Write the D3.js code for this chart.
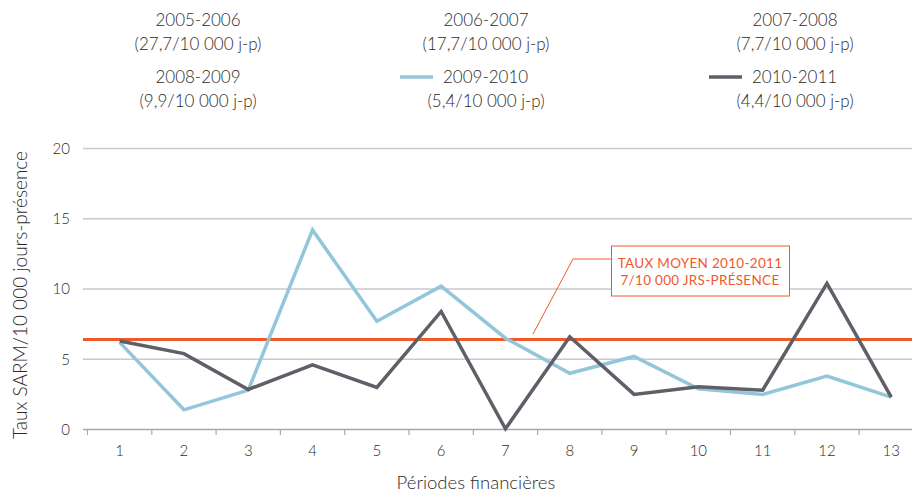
<!DOCTYPE html>
<html><head><meta charset="utf-8">
<script src="https://cdn.jsdelivr.net/npm/d3@7"></script>
<style>
body{margin:0;background:#fff;}
text{font-family:Lato,"Open Sans",sans-serif;font-weight:300;fill:#2b2b2b;}
</style></head>
<body><svg id="c" width="912" height="493"></svg>
<script>
const periods = ["1","2","3","4","5","6","7","8","9","10","11","12","13"];
const s2009 = [6.2,1.4,2.8,14.2,7.7,10.2,6.5,4.0,5.2,2.9,2.5,3.8,2.3];
const s2010 = [6.3,5.4,2.85,4.6,3.0,8.4,0.05,6.6,2.5,3.05,2.8,10.4,2.3];
const meanRate = 6.4;
const yTicks = [0,5,10,15,20];
const legendYears = ["2005-2006","2006-2007","2007-2008","2008-2009","2009-2010","2010-2011"];
const legendRates = ["(27,7/10 000 j-p)","(17,7/10 000 j-p)","(7,7/10 000 j-p)","(9,9/10 000 j-p)","(5,4/10 000 j-p)","(4,4/10 000 j-p)"];
const annotation = ["TAUX MOYEN 2010-2011","7/10 000 JRS-PRÉSENCE"];

const C_BLUE="#93c6db", C_DARK="#5f6067", C_OR="#f05a28", C_GRID="#c9c9ce";
const svg=d3.select("#c");
const x=d3.scaleBand().domain(periods).range([87.5,923.4]);
const y=d3.scaleLinear().domain([0,20]).range([429.5,148.5]);

// grid
svg.append("g").selectAll("line").data(yTicks.filter(d=>d>0)).join("line")
 .attr("x1",83).attr("x2",912).attr("y1",d=>y(d)).attr("y2",d=>y(d))
 .attr("stroke",C_GRID).attr("stroke-width",1.5);
// y labels
svg.append("g").selectAll("text").data(yTicks).join("text")
 .attr("x",70).attr("y",d=>y(d)).attr("dy","0.35em").attr("text-anchor","end")
 .attr("font-size",15).text(d=>d);
// x axis
const xa=svg.append("g").attr("transform","translate(0,429.5)")
 .call(d3.axisBottom(x).tickSize(0).tickPadding(16));
xa.select(".domain").remove();
svg.append("line").attr("x1",83).attr("x2",912).attr("y1",429.5).attr("y2",429.5).attr("stroke","#a9a9ad").attr("stroke-width",1.5);
xa.selectAll("text").attr("font-size",15).attr("font-family","Lato,sans-serif").attr("font-weight",300).attr("fill","#2b2b2b");
svg.append("g").selectAll("line").data(periods).join("line")
 .attr("x1",d=>x(d)).attr("x2",d=>x(d)).attr("y1",429.5).attr("y2",435)
 .attr("stroke","#a9a9ad").attr("stroke-width",1.2);

// titles
svg.append("text").attr("x",476).attr("y",489).attr("text-anchor","middle").attr("font-size",18.5).text("Périodes financières");
svg.append("text").attr("transform","translate(27,295) rotate(-90)").attr("text-anchor","middle").attr("font-size",19).style("fill","#2b2b2b").text("Taux SARM/10 000 jours-présence");

// mean line
svg.append("line").attr("x1",83).attr("x2",912).attr("y1",y(meanRate)).attr("y2",y(meanRate)).attr("stroke",C_OR).attr("stroke-width",3);

// series
const line=d3.line().x((d,i)=>x(periods[i])+x.bandwidth()/2).y(d=>y(d));
svg.append("path").datum(s2009).attr("d",line).attr("fill","none").attr("stroke",C_BLUE).attr("stroke-width",3.5).attr("stroke-linejoin","miter");
svg.append("path").datum(s2010).attr("d",line).attr("fill","none").attr("stroke",C_DARK).attr("stroke-width",3.5).attr("stroke-linejoin","miter");

// annotation
svg.append("polyline").attr("points","533,334 573,259 612,259").attr("fill","none").attr("stroke",C_OR).attr("stroke-width",1);
svg.append("rect").attr("x",611.5).attr("y",246).attr("width",178).attr("height",50).attr("fill","#fff").attr("stroke",C_OR).attr("stroke-width",1);
svg.selectAll(".ann").data(annotation).join("text").attr("class","ann")
 .attr("x",700).attr("y",(d,i)=>268+i*17).attr("text-anchor","middle").attr("font-size",13.5)
 .style("fill",C_OR).style("font-weight",400).style("letter-spacing","0.3px").text(d=>d);

// legend
const lx=[198,486,795];
const ly=[20,77];
const swatch={4:C_BLUE,5:C_DARK};
legendYears.forEach((yr,i)=>{
  const col=i%3,row=Math.floor(i/3);
  const cx=lx[col], cy=ly[row];
  if(swatch[i]){
    const tx=cx-43;
    svg.append("line").attr("x1",tx-43).attr("x2",tx-10).attr("y1",cy).attr("y2",cy).attr("stroke",swatch[i]).attr("stroke-width",3.5);
    svg.append("text").attr("x",tx).attr("y",cy).attr("dy","0.35em").attr("font-size",17).text(yr);
  } else {
    svg.append("text").attr("x",cx).attr("y",cy).attr("dy","0.35em").attr("text-anchor","middle").attr("font-size",17).text(yr);
  }
  svg.append("text").attr("x",cx).attr("y",cy+24).attr("dy","0.35em").attr("text-anchor","middle").attr("font-size",17).text(legendRates[i]);
});
</script></body></html>
